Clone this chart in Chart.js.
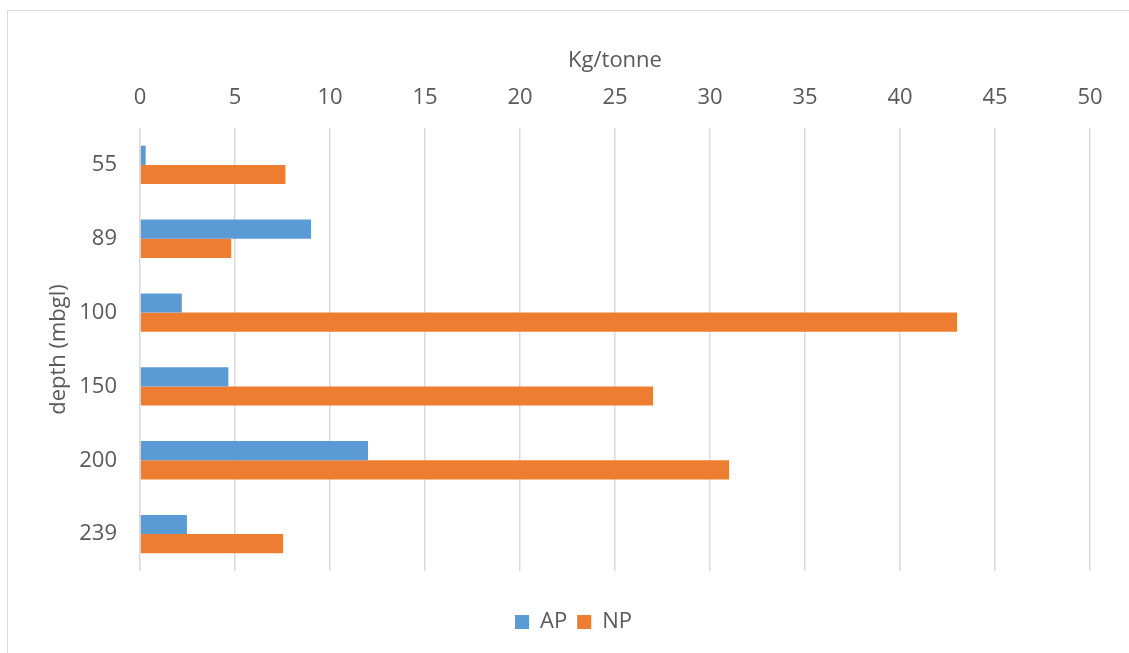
<!DOCTYPE html>
<html>
<head>
<meta charset="utf-8">
<title>AP / NP by depth</title>
<script src="https://cdn.jsdelivr.net/npm/chart.js@4/dist/chart.umd.min.js"></script>
<style>
  html, body { margin: 0; padding: 0; background: #fff; }
  #wrap { position: relative; width: 1129px; height: 653px; overflow: hidden; }
  #frame {
    position: absolute; left: 7px; top: 10px; width: 1200px; height: 700px;
    border: 1.5px solid #d9d9d9; box-sizing: border-box;
  }
  #chart { position: absolute; left: 0; top: 0; }
</style>
</head>
<body>
<div id="wrap">
  <div id="frame"></div>
  <canvas id="chart" width="1129" height="653"></canvas>
</div>
<script>
// depth categories (mbgl) and values in kg/tonne
const depths = ['55', '89', '100', '150', '200', '239'];
const apValues = [0.3, 9.0, 2.2, 4.65, 12.0, 2.47];
const npValues = [7.65, 4.8, 43.0, 27.0, 31.0, 7.53];
const xTicks = [0, 5, 10, 15, 20, 25, 30, 35, 40, 45, 50];

const textColor = '#595959';
const fontSize = 22;
Chart.defaults.font.family = '"Open Sans", "Noto Sans", sans-serif';
Chart.defaults.color = textColor;

// left padding moves the legend centre; the y scale fills the rest up to the plot edge
const padLeft = 57;
const plotLeft = 140;

new Chart(document.getElementById('chart'), {
  type: 'bar',
  data: {
    labels: depths,
    datasets: [
      { label: 'AP', data: apValues, backgroundColor: '#5B9BD5' },
      { label: 'NP', data: npValues, backgroundColor: '#ED7D31' }
    ]
  },
  options: {
    indexAxis: 'y',
    responsive: false,
    animation: false,
    categoryPercentage: 0.52,
    barPercentage: 1.0,
    layout: { padding: { left: padLeft, right: 39, top: 0, bottom: 10 } },
    scales: {
      x: {
        position: 'top',
        min: 0,
        max: 50,
        afterBuildTicks: s => { s.ticks = xTicks.map(v => ({ value: v })); },
        afterFit: s => { s.height = 128; },
        grid: { color: '#d9d9d9', lineWidth: 1.5, drawTicks: false },
        border: { display: false },
        ticks: { padding: 17, font: { size: fontSize }, color: textColor },
        title: {
          display: true,
          text: 'Kg/tonne',
          font: { size: fontSize },
          color: textColor,
          padding: { top: 48, bottom: 0 }
        }
      },
      y: {
        afterFit: s => { s.width = plotLeft - padLeft; },
        grid: { display: false, drawTicks: false },
        border: { display: false },
        ticks: { padding: 23, font: { size: fontSize }, color: textColor },
        title: {
          display: true,
          text: 'depth (mbgl)',
          font: { size: fontSize },
          color: textColor,
          padding: { top: -11, bottom: 0 }
        }
      }
    },
    plugins: {
      tooltip: { enabled: false },
      legend: {
        position: 'bottom',
        // empty title used as spacer between plot and legend entries
        title: { display: true, text: '', font: { size: 10 }, padding: 9 },
        labels: {
          boxWidth: 14,
          boxHeight: 14,
          padding: 10,
          font: { size: fontSize },
          color: textColor
        }
      }
    }
  }
});
</script>
</body>
</html>
